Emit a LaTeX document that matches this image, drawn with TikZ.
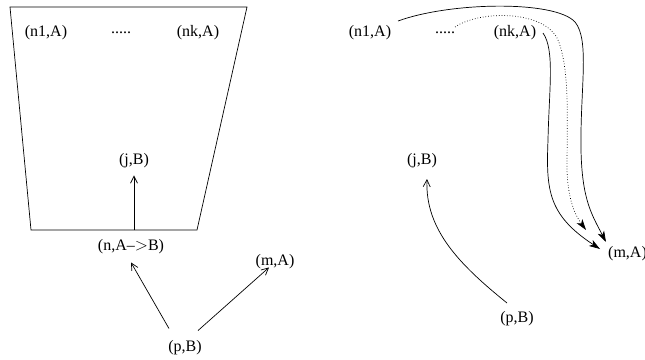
\documentclass[tikz,border=0pt]{standalone}
\usepackage{fontspec}
\setmainfont{Liberation Serif}
\usetikzlibrary{arrows.meta}
\begin{document}
\begin{tikzpicture}[x=1pt,y=-1pt,
  lbl/.style={inner sep=2pt,font=\fontsize{16}{19}\selectfont},
  openarr/.style={draw,line width=0.7pt,-{Straight Barb[length=7pt,width=7pt]}},
  fillarr/.style={draw,line width=0.7pt,-{Stealth[length=11pt,width=7pt,inset=3pt]}},
  dotarr/.style={fillarr,dotted}]
\useasboundingbox (0,0) rectangle (645,359);
% left panel
\draw[line width=0.7pt] (10,7) -- (247,7) -- (197,230) -- (31,230) -- cycle;
\node[lbl] (ln1) at (46,33) {(n1,A)};
\node[lbl] (ldots) at (121,33) {.....};
\node[lbl] (lnk) at (198,33) {(nk,A)};
\node[lbl] (ljB) at (134,161) {(j,B)};
\coordinate (lbase) at (134,230);
\node[lbl] (lnAB) at (131,247) {(n,A--$>$B)};
\node[lbl] (lmA) at (275,262) {(m,A)};
\node[lbl] (lpB) at (185,348) {(p,B)};
\draw[openarr] (lbase) -- ([yshift=-5pt]ljB.south);
\draw[openarr] (lpB.north) ++(-16,-10) coordinate (lp1) (lp1) -- ([yshift=-6pt]lnAB.south);
\draw[openarr] (lpB.north) ++(13,-8) coordinate (lp2) (lp2) -- ([shift={(-6,-4)}]lmA.south);
% right panel
\node[lbl] (rn1) at (370,33) {(n1,A)};
\node[lbl] (rdots) at (445,33) {.....};
\node[lbl] (rnk) at (515,33) {(nk,A)};
\node[lbl] (rjB) at (422,161) {(j,B)};
\node[lbl,anchor=west] (rmA) at (606,254) {(m,A)};
\node[lbl] (rpB) at (517,319) {(p,B)};
\coordinate (s1) at (398,21);
\coordinate (s1t) at (606,242);
\draw[fillarr] (s1) .. controls (450,2) and (555,0) .. (575,22)
  .. controls (590,40) and (580,90) .. (581,150)
  .. controls (582,200) and (592,215) .. (s1t);
\coordinate (s2) at (543,33);
\coordinate (s2t) at (600,249);
\draw[fillarr] (s2) .. controls (555,50) and (549,90) .. (548,140)
  .. controls (546,190) and (548,215) .. (s2t);
\coordinate (d1) at (455,27);
\coordinate (d1t) at (586,230);
\draw[dotarr] (d1) .. controls (480,10) and (545,10) .. (558,40)
  .. controls (570,70) and (567,120) .. (567,170)
  .. controls (568,200) and (575,215) .. (d1t);
\coordinate (pb) at (507,303);
\coordinate (jb) at (427,179);
\draw[openarr] (pb) .. controls (460,265) and (425,230) .. (jb);
\end{tikzpicture}
\end{document}
